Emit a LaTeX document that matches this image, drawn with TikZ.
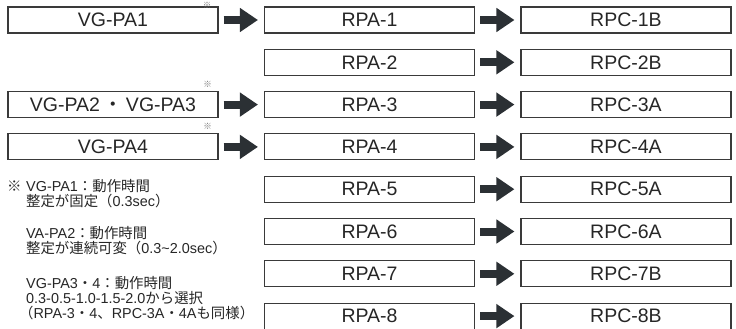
\documentclass[tikz,border=0pt]{standalone}
\usepackage{fontspec}
\setmainfont{Liberation Sans}
\newfontfamily\jpfont{Noto Sans CJK JP}
\newcommand\jp[1]{{\jpfont #1}}
\usepackage{tikz}
\usetikzlibrary{arrows.meta,positioning}
\definecolor{boxline}{HTML}{3A3A3A}
\definecolor{arrowfill}{HTML}{2B3034}
\definecolor{inktext}{HTML}{262626}

\begin{document}
\begin{tikzpicture}[x=1pt,y=-1pt,
  unit/.style={draw=boxline,line width=1.1pt,minimum width=210pt,minimum height=26pt,
    inner sep=0pt,text=inktext,font=\fontsize{19.5}{19.5}\selectfont},
  blockarrow/.style={arrowfill,line width=8pt,shorten <=5pt,shorten >=6pt,
    -{Triangle[width=23pt,length=18pt]}},
  kome/.style={inner sep=0pt,text=black!55,font=\jpfont\fontsize{8.5}{8.5}\selectfont},
  note/.style={anchor=west,align=left,inner sep=0pt,text=inktext,
    font=\fontsize{14.4}{15}\selectfont}]
  \useasboundingbox (0,0) rectangle (736,329);
  \def\dy{42.3}
  % RPA and RPC columns
  \foreach \i/\r in {1/1B,2/2B,3/3A,4/4A,5/5A,6/6A,7/7B,8/8B}{
    \node[unit] (rpa\i) at (369.5,{20+(\i-1)*\dy}) {RPA-\i};
    \node[unit] (rpc\i) at (626,{20+(\i-1)*\dy}) {RPC-\r};
    \draw[blockarrow] (rpa\i) -- (rpc\i);
  }
  % VG column
  \node[unit] (vg1) at (113,20) {VG-PA1};
  \node[unit] (vg23) at (113,{20+2*\dy}) {VG-PA2\,\jp{・}\,VG-PA3};
  \node[unit] (vg4) at (113,{20+3*\dy}) {VG-PA4};
  \foreach \n/\m in {vg1/1,vg23/3,vg4/4}
    \draw[blockarrow] (\n) -- (rpa\m);
  \node[kome] (kvg1) at (207,5) {※};
  \node[kome] (kvg23) at ([xshift=-11pt,yshift=7pt]vg23.north east) {※};
  \node[kome] (kvg4) at ([xshift=-11pt,yshift=7pt]vg4.north east) {※};
  % notes
  \node[note] (k0) at (7,186) {\jp{※}};
  \node[note] (n1) at (26,193.5) {VG-PA1\jp{：動作時間}\\\jp{整定が固定（}0.3sec\jp{）}};
  \node[note] (n2) at (26,240.5) {VA-PA2\jp{：動作時間}\\\jp{整定が連続可変（}0.3\textasciitilde 2.0sec\jp{）}};
  \node[note] (n3) at (26,298) {VG-PA3\jp{・}4\jp{：動作時間}\\0.3-0.5-1.0-1.5-2.0\jp{から選択}\\
    \hspace*{-7pt}\jp{（}RPA-3\jp{・}4\jp{、}RPC-3A\jp{・}4A\jp{も同様）}};
\end{tikzpicture}
\end{document}
